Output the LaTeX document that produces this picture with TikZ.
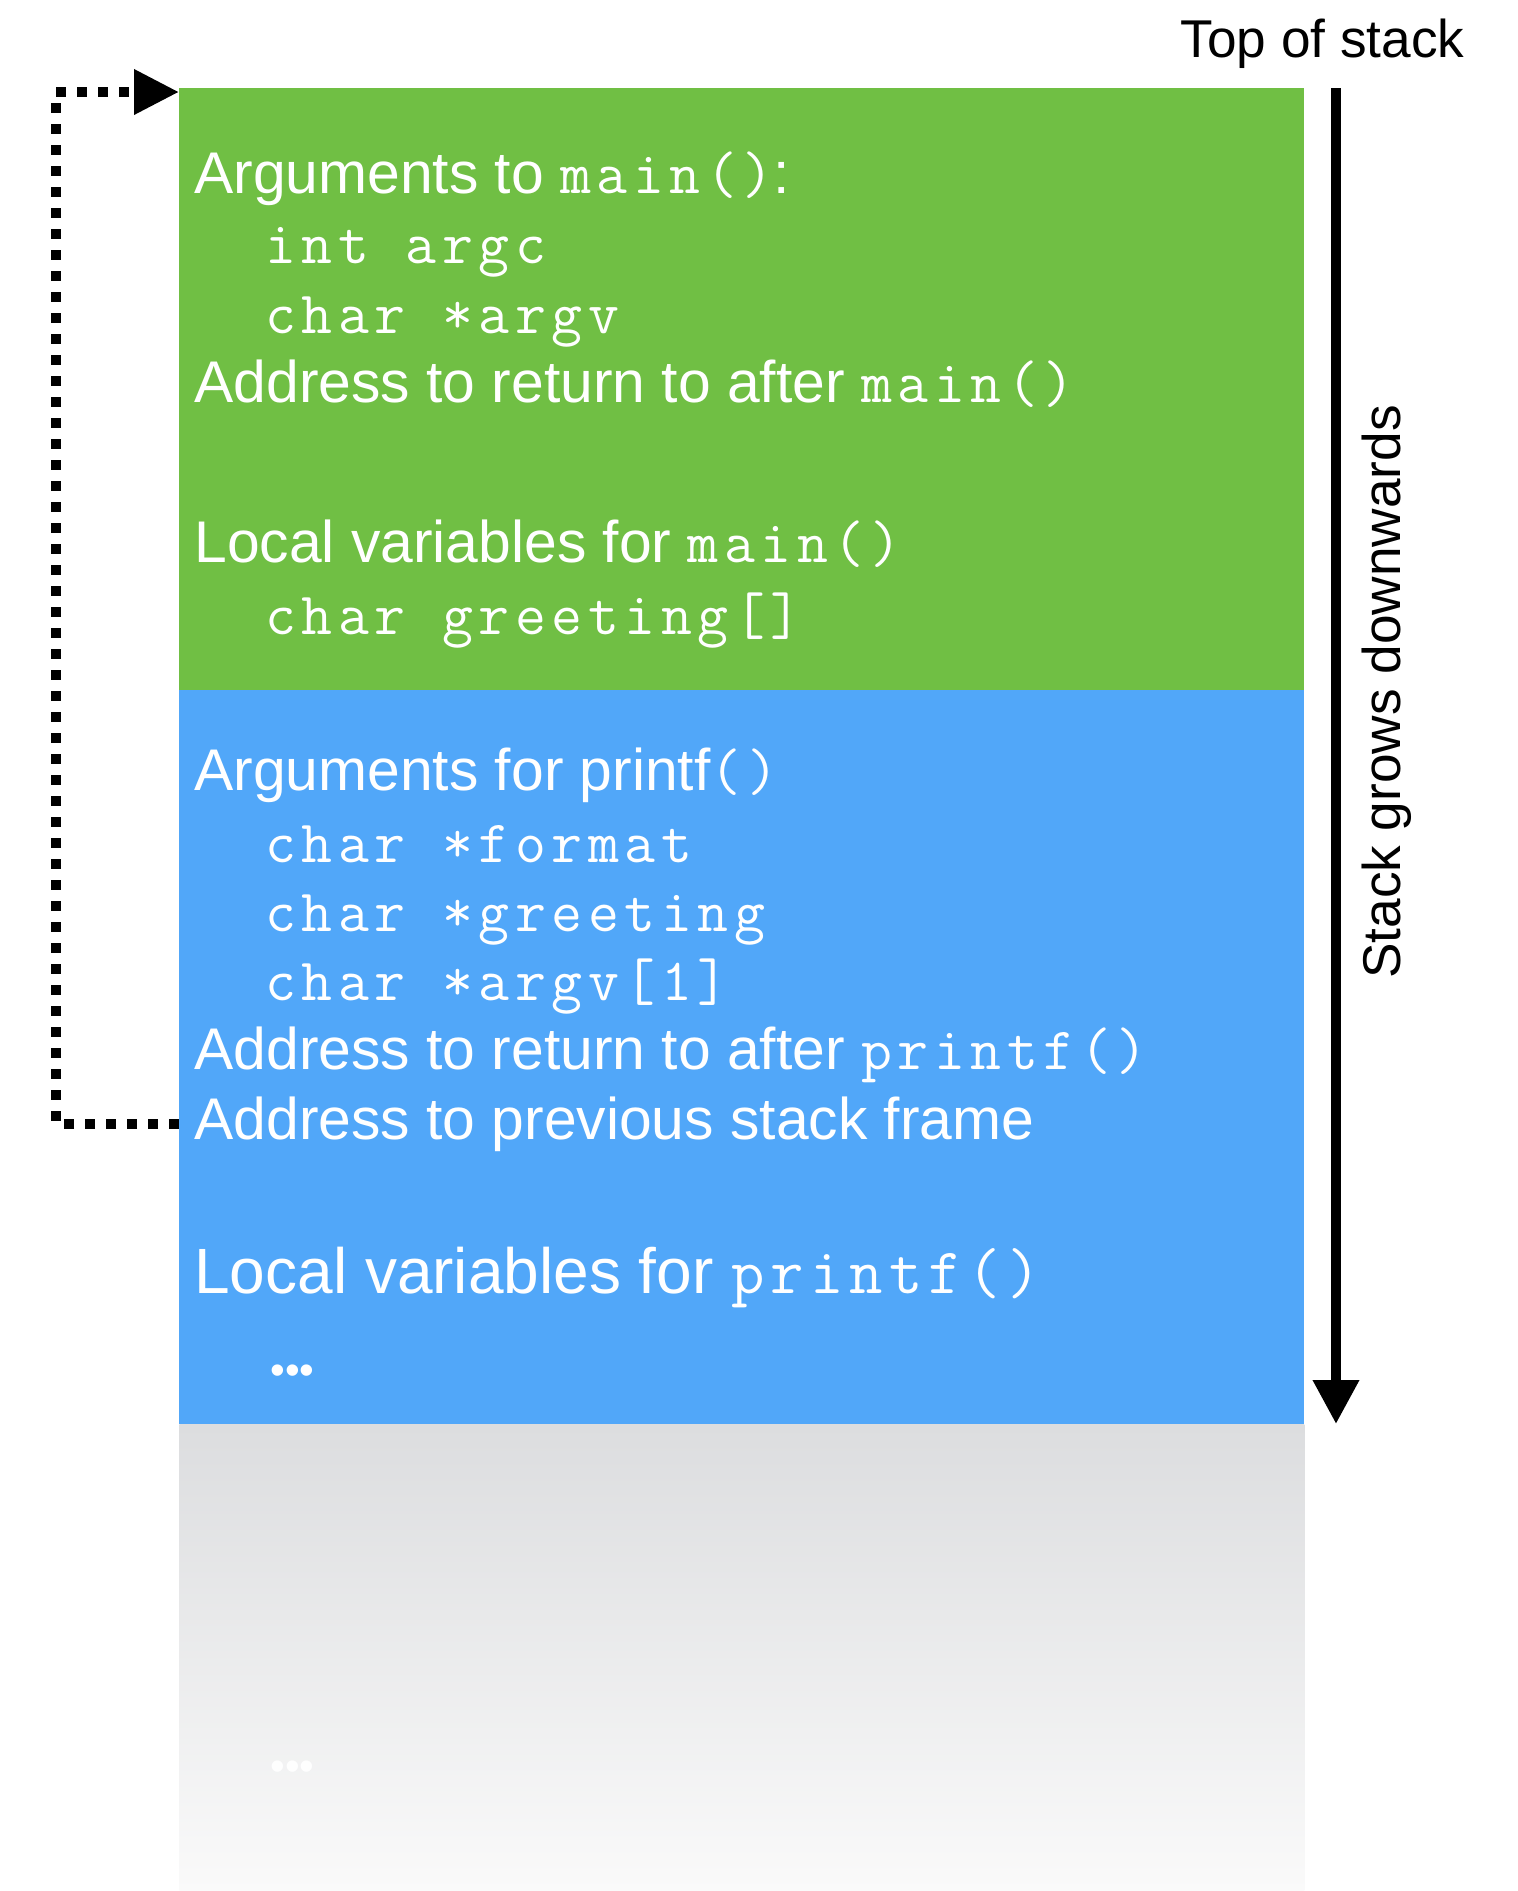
\documentclass[tikz,border=0pt]{standalone}
\usepackage{fontspec}
\setmainfont{Liberation Sans}
\newfontfamily\codefont[LetterSpace=9.3]{Latin Modern Mono}
\usetikzlibrary{arrows.meta}
\definecolor{framegreen}{RGB}{112,191,68}
\definecolor{frameblue}{RGB}{81,167,249}
\definecolor{fadetop}{RGB}{220,221,223}
\definecolor{fadebot}{RGB}{250,250,250}
\newcommand{\mono}[1]{{\codefont\fontsize{30}{36}\selectfont #1}}
\newcommand{\bigmono}[1]{{\codefont\fontsize{32.4}{38}\selectfont #1}}
\tikzset{
  txt/.style={anchor=base west, inner sep=0pt, text=white, font=\fontsize{29.4}{35}\selectfont},
  bigtxt/.style={anchor=base west, inner sep=0pt, text=white, font=\fontsize{32}{38}\selectfont},
  codeline/.style={anchor=base west, inner sep=0pt, text=white, font=\codefont\fontsize{30}{36}\selectfont},
  dotsline/.style={anchor=base west, inner sep=0pt, text=white, font=\fontsize{21}{25}\selectfont},
  label/.style={inner sep=0pt, text=black, font=\fontsize{26.6}{32}\selectfont},
  framebox/.style={rectangle, draw=none, inner sep=0pt, anchor=north west, minimum width=562.5pt},
  growarrow/.style={line width=5pt, -{Triangle[length=22pt,width=22pt]}},
  ptrline/.style={line width=5pt, dash pattern=on 5pt off 5.5pt, -{Triangle[length=22.5pt,width=21.5pt]}}
}
\begin{document}
\begin{tikzpicture}[x=0.5pt,y=-0.5pt]
\useasboundingbox (0,0) rectangle (1517,1891);
% frames
\node[framebox, fill=framegreen, minimum height=301pt] (green) at (179,88) {};
\node[framebox, fill=frameblue, minimum height=367pt] (blue) at (179,690) {};
\node[framebox, top color=fadetop, bottom color=fadebot, minimum height=233.5pt] (fade) at (179,1424) {};
% main() frame
\node[txt] (a1) at (194,193) {Arguments to \mono{main()}:};
\node[codeline] (a2) at (265,263) {int argc};
\node[codeline] (a3) at (265,333) {char *argv};
\node[txt] (a4) at (194,402) {Address to return to after \mono{main()}};
\node[txt] (a5) at (194,562) {Local variables for \mono{main()}};
\node[codeline] (a6) at (265,634) {char greeting[]};
% printf() frame
\node[txt] (b1) at (194,790) {Arguments for printf\mono{()}};
\node[codeline] (b2) at (265,862) {char *format};
\node[codeline] (b3) at (265,931) {char *greeting};
\node[codeline] (b4) at (265,1000) {char *argv[1]};
\node[txt] (b5) at (194,1069) {Address to return to after \mono{printf()}};
\node[txt] (prev) at (194,1139) {Address to previous stack frame};
\node[bigtxt] (b7) at (194,1293) {Local variables for \bigmono{printf()}};
\node[dotsline] (b8) at (270,1384) {•••};
\node[dotsline, text=white!97!fadetop] (c1) at (270,1780) {•••};
% labels
\node[label, anchor=base east] (top) at (1465,57) {Top of stack};
\node[label, anchor=base, rotate=90] (grow) at (1400,692) {Stack grows downwards};
% stack direction arrow
\coordinate (stacktop) at (1336,88);
\coordinate (stackbot) at (1336,1424);
\draw[growarrow] (stacktop) -- (stackbot);
% pointer to previous frame
\draw[ptrline] (prev.west -| blue.west) -- ++(-123,0) |- ([yshift=-2pt]green.north west);
\end{tikzpicture}
\end{document}
